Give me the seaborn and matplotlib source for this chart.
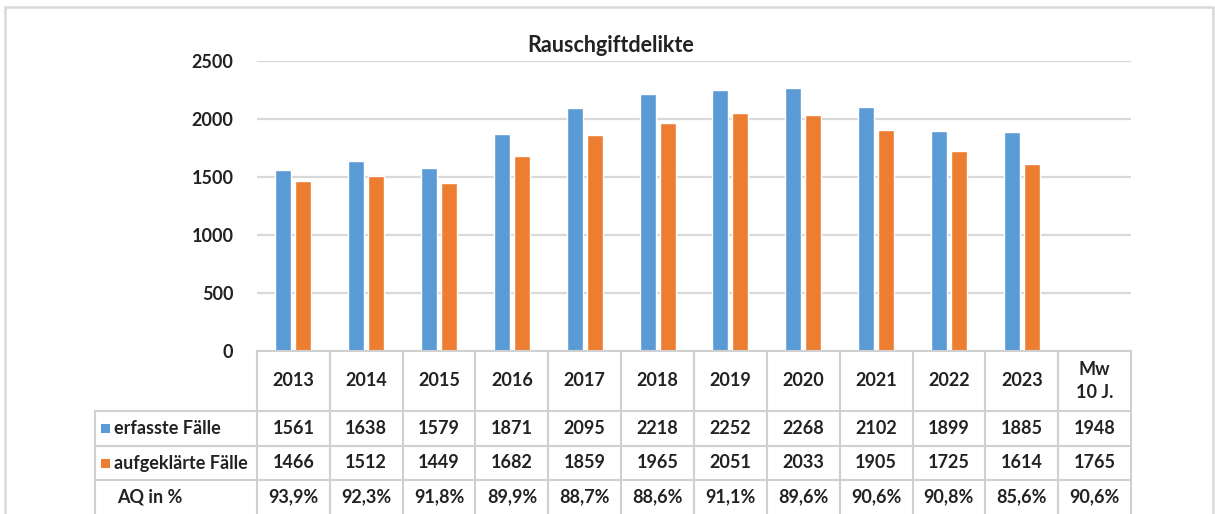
import matplotlib
matplotlib.use("Agg")
import matplotlib.pyplot as plt
from matplotlib.transforms import blended_transform_factory
from matplotlib.patches import Rectangle
import seaborn as sns
import pandas as pd

# ---------------- data ----------------
years = ["2013", "2014", "2015", "2016", "2017", "2018", "2019", "2020", "2021", "2022", "2023"]
col_labels = years + ["Mw\n10 J."]
erfasste = [1561, 1638, 1579, 1871, 2095, 2218, 2252, 2268, 2102, 1899, 1885]
aufgeklaerte = [1466, 1512, 1449, 1682, 1859, 1965, 2051, 2033, 1905, 1725, 1614]
mw_erfasste = 1948
mw_aufgeklaerte = 1765
aq = ["93,9%", "92,3%", "91,8%", "89,9%", "88,7%", "88,6%", "91,1%", "89,6%", "90,6%", "90,8%", "85,6%", "90,6%"]
series_names = ["erfasste Fälle", "aufgeklärte Fälle"]
row_label_aq = "AQ in %"
title = "Rauschgiftdelikte"
yticks = [0, 500, 1000, 1500, 2000, 2500]
colors = ["#5B9BD5", "#ED7D31"]

df = pd.DataFrame({
    "Jahr": years * 2,
    "Serie": [series_names[0]] * len(years) + [series_names[1]] * len(years),
    "Wert": erfasste + aufgeklaerte,
})

# ---------------- style ----------------
sns.set_theme(style="white")
plt.rcParams["font.family"] = ["Lato", "DejaVu Sans"]
TXT = "#222222"
GRID = "#d9d9d9"
LINE = "#d0d0d0"
FS = 13

W, H = 1215, 514
fig = plt.figure(figsize=(W / 100, H / 100), dpi=100)

def fx(x):
    return x / W

def fy(y):
    return 1 - y / H

ax_l, ax_r, ax_t, ax_b = 257, 1131, 61, 351
ax = fig.add_axes([fx(ax_l), fy(ax_b), fx(ax_r) - fx(ax_l), fy(ax_t) - fy(ax_b)])

sns.barplot(data=df, x="Jahr", y="Wert", hue="Serie", order=col_labels,
            hue_order=series_names, palette=colors, width=0.55, gap=0.2,
            saturation=1, ax=ax, legend=False)

ax.set_xlim(-0.5, len(col_labels) - 0.5)
ax.set_ylim(0, 2500)
ax.set_yticks(yticks)
ax.set_yticklabels([str(v) for v in yticks], fontsize=FS, fontweight="bold", color=TXT)
ax.tick_params(axis="y", length=0, pad=17)
ax.tick_params(axis="x", length=0, labelbottom=False)
ax.set_xlabel("")
ax.set_ylabel("")
ax.yaxis.grid(True, color=GRID, linewidth=1.6)
ax.set_axisbelow(True)
for s in ["top", "right", "left"]:
    ax.spines[s].set_visible(False)
ax.spines["bottom"].set_color(LINE)
ax.spines["bottom"].set_linewidth(1.5)

fig.text(fx(611), fy(45), title, ha="center", va="center", fontsize=15.5,
         fontweight="bold", color=TXT)

# outer frame
fig.add_artist(Rectangle((fx(5), fy(520)), fx(1213) - fx(5), fy(7) - fy(520),
                         fill=False, edgecolor="#d9d9d9", linewidth=1.8,
                         transform=fig.transFigure))

# ---------------- data table ----------------
tr = blended_transform_factory(ax.transData, fig.transFigure)
col_w = (ax_r - ax_l) / len(col_labels)
row_top, r1, r2, r3, bottom = 351, 411, 446, 480, 520
lab_l = 95

def hline(y, x0, x1):
    fig.add_artist(plt.Line2D([fx(x0), fx(x1)], [fy(y), fy(y)], color=LINE,
                              linewidth=1.5, transform=fig.transFigure))

def vline(x, y0, y1):
    fig.add_artist(plt.Line2D([fx(x), fx(x)], [fy(y0), fy(y1)], color=LINE,
                              linewidth=1.5, transform=fig.transFigure))

for y in (r1, r2, r3):
    hline(y, lab_l, ax_r)
for i in range(len(col_labels) + 1):
    vline(ax_l + i * col_w, row_top, bottom)
vline(lab_l, r1, bottom)

erf_txt = [str(v) for v in erfasste] + [str(mw_erfasste)]
auf_txt = [str(v) for v in aufgeklaerte] + [str(mw_aufgeklaerte)]
for i, lab in enumerate(col_labels):
    ax.text(i, fy((row_top + r1) / 2), lab, transform=tr, ha="center", va="center",
            fontsize=FS, fontweight="bold", color=TXT, linespacing=1.45)
    ax.text(i, fy((r1 + r2) / 2), erf_txt[i], transform=tr, ha="center", va="center",
            fontsize=FS, fontweight="bold", color=TXT)
    ax.text(i, fy((r2 + r3) / 2), auf_txt[i], transform=tr, ha="center", va="center",
            fontsize=FS, fontweight="bold", color=TXT)
    ax.text(i, fy((r3 + 514) / 2), aq[i], transform=tr, ha="center", va="center",
            fontsize=FS, fontweight="bold", color=TXT)

row_ys = [(r1 + r2) / 2, (r2 + r3) / 2]
for name, col, yc in zip(series_names, colors, row_ys):
    fig.add_artist(Rectangle((fx(101), fy(yc + 4.5)), fx(9), 9 / H, facecolor=col,
                             edgecolor="none", transform=fig.transFigure))
    fig.text(fx(114), fy(yc), name, ha="left", va="center", fontsize=FS,
             fontweight="bold", color=TXT)
fig.text(fx(117), fy((r3 + 514) / 2), row_label_aq, ha="left", va="center", fontsize=FS,
         fontweight="bold", color=TXT)

fig.savefig("out.png", dpi=100, facecolor="white")
